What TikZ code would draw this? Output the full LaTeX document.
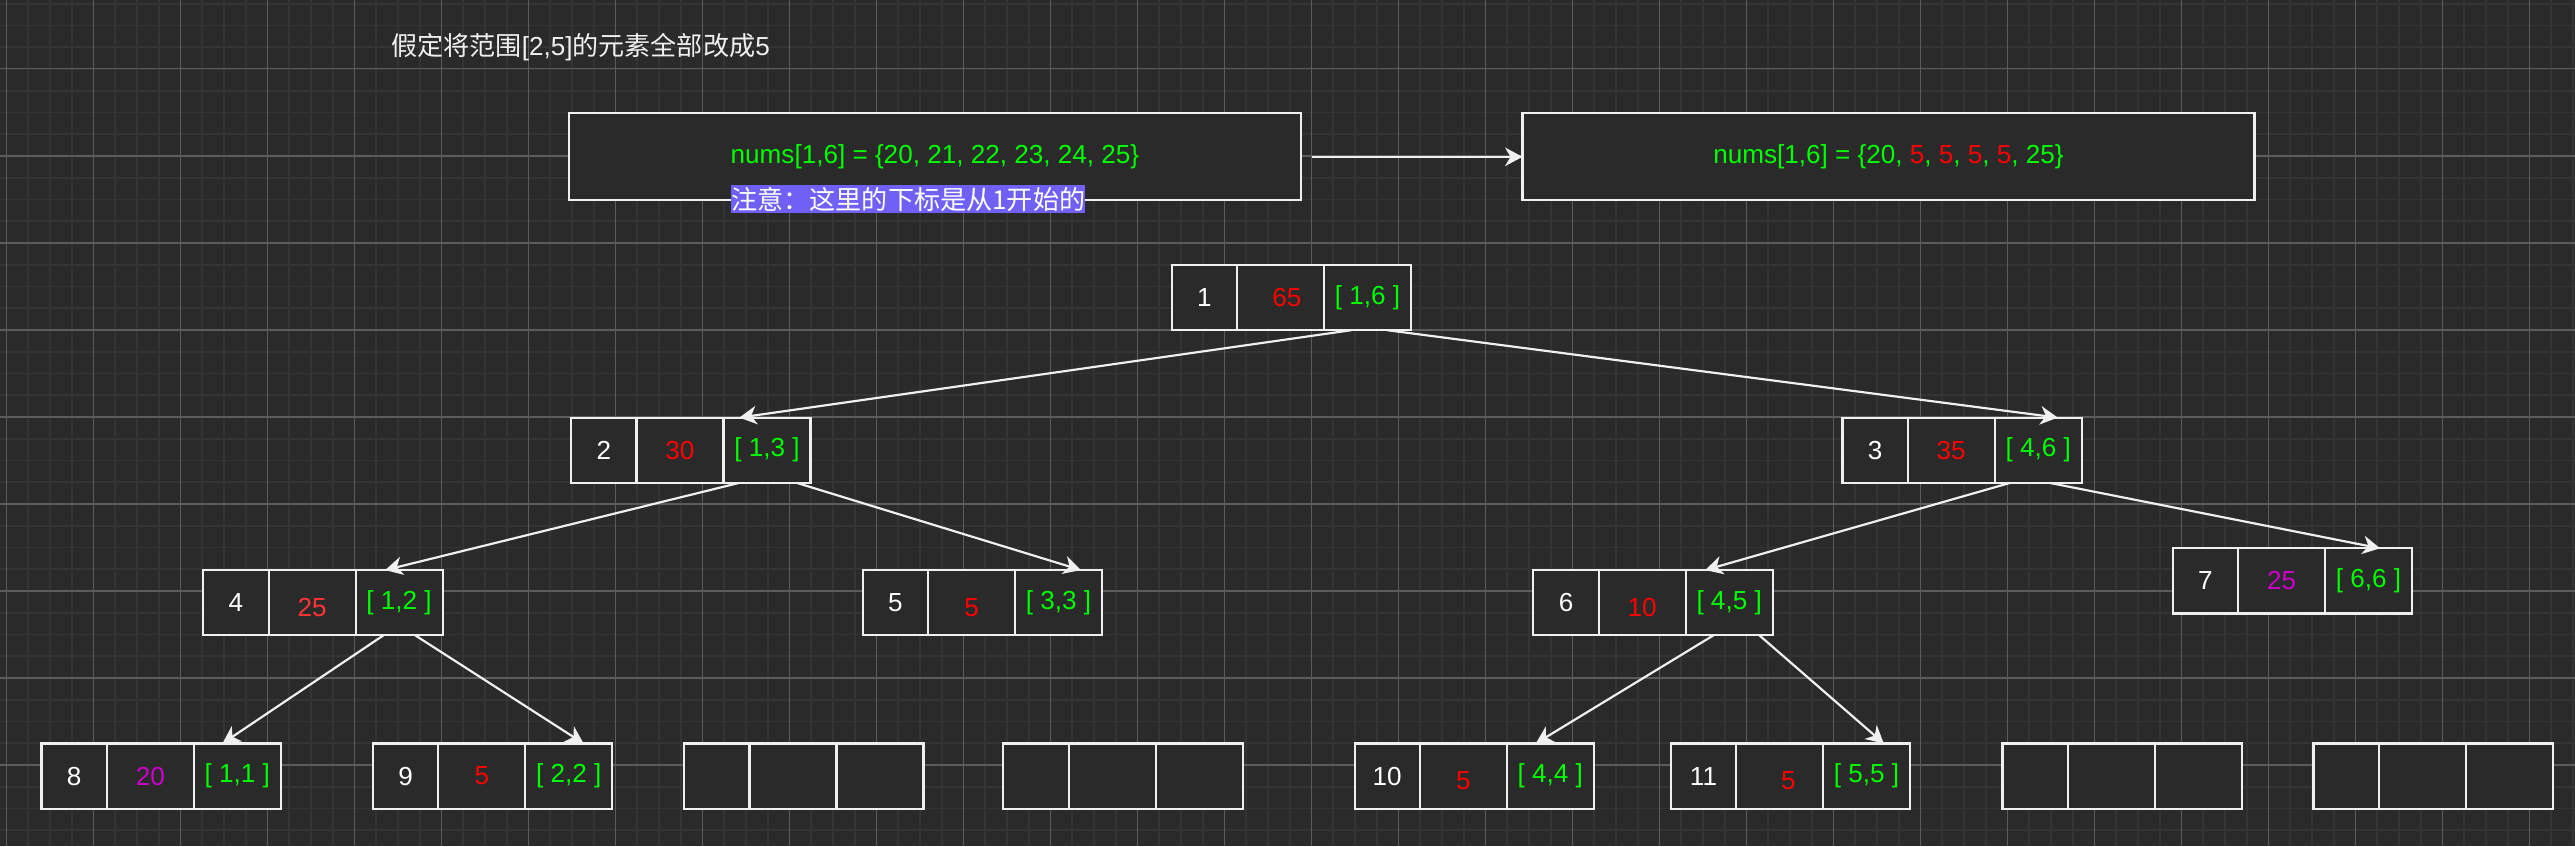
\documentclass[tikz,border=0pt]{standalone}
\usepackage{fontspec}
\setmainfont{Liberation Sans}
\newfontfamily\cjk{Noto Sans CJK SC}
\usepackage{tikz}
\usetikzlibrary{arrows.meta,positioning}
\definecolor{canvas}{HTML}{2A2A2A}
\definecolor{gridfine}{HTML}{343434}
\definecolor{gridbold}{HTML}{5C5C5C}
\definecolor{stroke}{HTML}{F0F0F0}
\definecolor{rangegreen}{HTML}{00FF00}
\definecolor{sumred}{HTML}{FF0000}
\definecolor{softred}{HTML}{FF3333}
\definecolor{leafpink}{HTML}{CC00CC}
\definecolor{notebg}{HTML}{7060F5}
\tikzset
{
    cell/.style     = {rectangle, draw=stroke, fill=canvas, line width=1pt, outer sep=0pt, inner sep=0pt, minimum height=30pt, font=\fontsize{12}{14}\selectfont},
    idxcell/.style  = {cell, minimum width=30pt, text=white},
    sumcell/.style  = {cell, minimum width=40pt, text=sumred},
    rngcell/.style  = {cell, minimum width=40pt, text=rangegreen},
    dropped/.style  = {text height=12.6pt},
    arraybox/.style = {rectangle, draw=stroke, fill=canvas, line width=1pt, outer sep=0pt, minimum width=336.5pt, minimum height=40pt, text=rangegreen, font=\fontsize{12}{14}\selectfont},
    treeedge/.style = {->, draw=stroke, line width=1pt}
}

\begin{document}
\begin{tikzpicture}[x=1pt, y=-1pt, >={Stealth[length=8pt, width=8.5pt, inset=2.5pt]}]
    \useasboundingbox (0,0) rectangle (1183.9,389);
    \fill[canvas] (0,0) rectangle (1183.9,389);
    \foreach \k in {0,...,118} \draw[gridfine, line width=0.8pt] (3+10*\k,0) -- (3+10*\k,389);
    \foreach \k in {0,...,38} \draw[gridfine, line width=0.8pt] (0,1.7+10*\k) -- (1183.9,1.7+10*\k);
    \foreach \k in {0,...,29} \draw[gridbold, line width=0.5pt] (3+40*\k,0) -- (3+40*\k,389);
    \foreach \k in {0,...,8} \draw[gridbold, line width=0.5pt] (0,31.7+40*\k) -- (1183.9,31.7+40*\k);

    \node[text=stroke, font=\fontsize{12}{14}\selectfont] (title) at (266.9,21.5) {{\cjk 假定将范围}[2,5]{\cjk 的元素全部改成}5};

    \node[arraybox, anchor=north west] (before) at (261.6,52.1) {nums[1,6] = \{20, 21, 22, 23, 24, 25\}};
    \node[arraybox, anchor=north west] (after) at (700.0,52.1) {nums[1,6] = \{20, \textcolor{sumred}{5}, \textcolor{sumred}{5}, \textcolor{sumred}{5}, \textcolor{sumred}{5}, 25\}};
    \node[anchor=west, fill=notebg, text=white, inner xsep=0pt, inner ysep=0pt, minimum height=13pt, font=\cjk\fontsize{12}{14}\selectfont] (note) at (336.1,91.6) {注意：这里的下标是从1开始的};

    \node[idxcell, anchor=north west] (n1a) at (538.7,121.8) {1};
    \node[sumcell, right=0pt of n1a] (n1b) {\hspace{6pt}65};
    \node[rngcell, right=0pt of n1b] (n1c) {[ 1,6 ]};

    \node[idxcell, anchor=north west] (n2a) at (262.6,192.0) {2};
    \node[sumcell, right=0pt of n2a] (n2b) {30};
    \node[rngcell, right=0pt of n2b] (n2c) {[ 1,3 ]};

    \node[idxcell, anchor=north west] (n3a) at (847.1,192.0) {3};
    \node[sumcell, right=0pt of n3a] (n3b) {35};
    \node[rngcell, right=0pt of n3b] (n3c) {[ 4,6 ]};

    \node[idxcell, anchor=north west] (n4a) at (93.5,262.1) {4};
    \node[sumcell, dropped, text=softred, right=0pt of n4a] (n4b) {25};
    \node[rngcell, right=0pt of n4b] (n4c) {[ 1,2 ]};

    \node[idxcell, anchor=north west] (n5a) at (396.7,262.1) {5};
    \node[sumcell, dropped, right=0pt of n5a] (n5b) {5};
    \node[rngcell, right=0pt of n5b] (n5c) {[ 3,3 ]};

    \node[idxcell, anchor=north west] (n6a) at (705.0,262.1) {6};
    \node[sumcell, dropped, right=0pt of n6a] (n6b) {10};
    \node[rngcell, right=0pt of n6b] (n6c) {[ 4,5 ]};

    \node[idxcell, anchor=north west] (n7a) at (999.0,252.1) {7};
    \node[sumcell, text=leafpink, right=0pt of n7a] (n7b) {25};
    \node[rngcell, right=0pt of n7b] (n7c) {[ 6,6 ]};

    \node[idxcell, anchor=north west] (n8a) at (19.1,341.8) {8};
    \node[sumcell, text=leafpink, right=0pt of n8a] (n8b) {20};
    \node[rngcell, right=0pt of n8b] (n8c) {[ 1,1 ]};

    \node[idxcell, anchor=north west] (n9a) at (171.5,341.8) {9};
    \node[sumcell, right=0pt of n9a] (n9b) {5};
    \node[rngcell, right=0pt of n9b] (n9c) {[ 2,2 ]};

    \node[idxcell, anchor=north west] (e1a) at (314.6,341.8) {};
    \node[sumcell, right=0pt of e1a] (e1b) {};
    \node[rngcell, right=0pt of e1b] (e1c) {};

    \node[idxcell, anchor=north west] (e2a) at (461.3,341.8) {};
    \node[sumcell, right=0pt of e2a] (e2b) {};
    \node[rngcell, right=0pt of e2b] (e2c) {};

    \node[idxcell, anchor=north west] (n10a) at (622.8,341.8) {10};
    \node[sumcell, dropped, right=0pt of n10a] (n10b) {5};
    \node[rngcell, right=0pt of n10b] (n10c) {[ 4,4 ]};

    \node[idxcell, anchor=north west] (n11a) at (768.2,341.8) {11};
    \node[sumcell, dropped, right=0pt of n11a] (n11b) {\hspace{8pt}5};
    \node[rngcell, right=0pt of n11b] (n11c) {[ 5,5 ]};

    \node[idxcell, anchor=north west] (e3a) at (920.7,341.8) {};
    \node[sumcell, right=0pt of e3a] (e3b) {};
    \node[rngcell, right=0pt of e3b] (e3c) {};

    \node[idxcell, anchor=north west] (e4a) at (1063.7,341.8) {};
    \node[sumcell, right=0pt of e4a] (e4b) {};
    \node[rngcell, right=0pt of e4b] (e4c) {};

    \draw[treeedge, shorten <=5pt] (before.east) -- (after.west);

    \draw[treeedge] ([xshift=-7.3pt]n1c.south) -- ([xshift=-12.7pt]n2c.north);
    \draw[treeedge] ([xshift=9pt]n1c.south) -- ([xshift=9pt]n3c.north);
    \draw[treeedge] ([xshift=-12.7pt]n2c.south) -- ([xshift=-6.4pt]n4c.north);
    \draw[treeedge] ([xshift=13.7pt]n2c.south) -- ([xshift=10.3pt]n5c.north);
    \draw[treeedge] ([xshift=-12.9pt]n3c.south) -- ([xshift=-11pt]n6c.north);
    \draw[treeedge] ([xshift=5.2pt]n3c.south) -- ([xshift=5.3pt]n7c.north);
    \draw[treeedge] ([xshift=-7.2pt]n4c.south) -- ([xshift=-6.8pt]n8c.north);
    \draw[treeedge] ([xshift=7.4pt]n4c.south) -- ([xshift=6.8pt]n9c.north);
    \draw[treeedge] ([xshift=-7.2pt]n6c.south) -- ([xshift=-6.7pt]n10c.north);
    \draw[treeedge] ([xshift=13.9pt]n6c.south) -- ([xshift=7.9pt]n11c.north);
\end{tikzpicture}
\end{document}
